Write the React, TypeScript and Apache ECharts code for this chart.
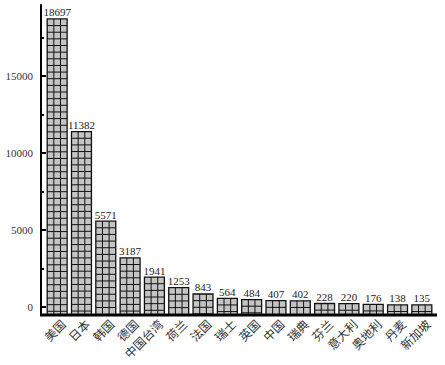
import React, { useEffect, useRef } from "react";
import * as echarts from "echarts";

const categories = ["美国", "日本", "韩国", "德国", "中国台湾", "荷兰", "法国", "瑞士", "英国", "中国", "瑞典", "芬兰", "意大利", "奥地利", "丹麦", "新加坡"];
const values = [18697, 11382, 5571, 3187, 1941, 1253, 843, 564, 484, 407, 402, 228, 220, 176, 138, 135];
const yLabelValues = [0, 5000, 10000, 15000];
const yMinorTickValues = [2500, 7500, 12500, 17500];

const Y_MIN = -520;
const Y_MAX = 19600;

export default function App() {
  const ref = useRef<HTMLDivElement>(null);
  useEffect(() => {
    if (!ref.current) return;
    const chart = echarts.init(ref.current, null, { renderer: "svg" });
    const serif = '"Liberation Serif", "DejaVu Serif", serif';
    chart.setOption({
      animation: false,
      backgroundColor: "#ffffff",
      grid: { left: 45, right: 11, top: 5, bottom: 50 },
      xAxis: {
        type: "category",
        data: categories,
        axisLine: { show: false },
        axisTick: { show: false },
        axisLabel: {
          interval: 0,
          rotate: 45,
          margin: 12,
          padding: [0, -8, 0, 0],
          fontFamily: '"Noto Sans CJK SC", sans-serif',
          fontSize: 12,
          color: "#333",
        },
      },
      yAxis: [
        {
          type: "value",
          min: Y_MIN,
          max: Y_MAX,
          offset: 4,
          splitLine: { show: false },
          axisLine: { show: true, lineStyle: { color: "#000", width: 2 } },
          axisTick: { show: true, inside: true, length: 5, customValues: yLabelValues, lineStyle: { color: "#000", width: 2 } },
          axisLabel: {
            customValues: yLabelValues,
            formatter: (v: number) => String(v),
            margin: 8,
            fontFamily: serif,
            fontSize: 11,
            color: "#333",
          },
        },
        {
          type: "value",
          min: Y_MIN,
          max: Y_MAX,
          offset: 4,
          position: "left",
          splitLine: { show: false },
          axisLine: { show: false },
          axisTick: { show: true, inside: true, length: 3, customValues: yMinorTickValues, lineStyle: { color: "#000", width: 2 } },
          axisLabel: { show: false },
        },
      ],
      graphic: [
        {
          type: "line",
          shape: { x1: 40, y1: 315, x2: 437, y2: 315 },
          style: { stroke: "#000", lineWidth: 3 },
          z: 100,
        },
      ],
      series: [
        {
          type: "custom",
          data: values.map((v, i) => [i, v]),
          encode: { x: 0, y: 1 },
          renderItem: (params: any, api: any) => {
            const idx = api.value(0);
            const val = api.value(1);
            const top = api.coord([idx, val]);
            const base = api.coord([idx, Y_MIN]);
            const cw = api.size([1, 0])[0];
            const w = cw * 0.82;
            const x0 = top[0] - w / 2;
            const h = base[1] - top[1];
            const children: any[] = [
              {
                type: "rect",
                shape: { x: x0, y: top[1], width: w, height: h },
                style: { fill: "#c4c4c4", stroke: "#111", lineWidth: 1.3 },
              },
            ];
            const cols = 3;
            for (let c = 1; c < cols; c++) {
              const x = x0 + (w * c) / cols;
              children.push({
                type: "line",
                shape: { x1: x, y1: top[1], x2: x, y2: base[1] },
                style: { stroke: "#111", lineWidth: 1 },
              });
            }
            const step = w / cols;
            for (let y = top[1] + step; y < base[1] - 1; y += step) {
              children.push({
                type: "line",
                shape: { x1: x0, y1: y, x2: x0 + w, y2: y },
                style: { stroke: "#111", lineWidth: 1 },
              });
            }
            children.push({
              type: "text",
              x: top[0],
              y: top[1] - 1,
              style: {
                text: String(val),
                textAlign: "center",
                textVerticalAlign: "bottom",
                font: '11px "Liberation Serif", serif',
                fill: "#222",
              },
            });
            return { type: "group", children };
          },
        },
      ],
    });
    return () => chart.dispose();
  }, []);
  return <div ref={ref} style={{ position: "fixed", left: 0, top: 0, width: 445, height: 365 }} />;
}
